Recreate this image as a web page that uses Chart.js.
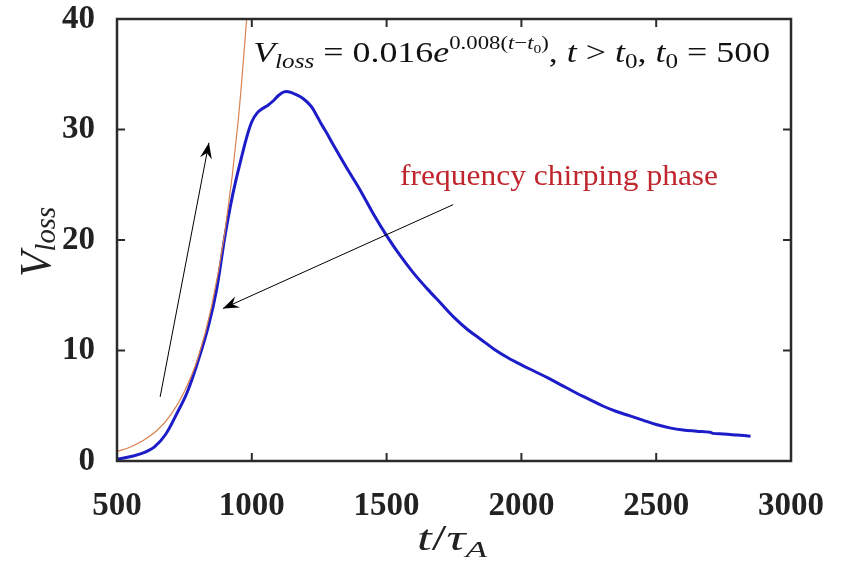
<!DOCTYPE html>
<html>
<head>
<meta charset="utf-8">
<script src="https://cdn.jsdelivr.net/npm/chart.js@4.4.1/dist/chart.umd.min.js"></script>
<style>
  html, body { margin: 0; padding: 0; background: #fff; }
  #wrap { width: 842px; height: 563px; }
</style>
</head>
<body>
<div id="wrap"><canvas id="lossChart"></canvas></div>
<script>
// simulated V_loss vs t/tau_A (blue)
const simT = [500, 560, 600, 640, 680, 720, 760, 800, 840, 870, 900, 920, 940, 960, 980,
  1000, 1020, 1040, 1060, 1080, 1100, 1120, 1140, 1160, 1190, 1220, 1240, 1260, 1280, 1300,
  1350, 1400, 1450, 1500, 1550, 1600, 1650, 1700, 1750, 1800, 1850, 1900, 1950, 2000,
  2050, 2100, 2150, 2200, 2250, 2300, 2350, 2400, 2450, 2500, 2550, 2600, 2650, 2700,
  2710, 2750, 2800, 2850];
const simV = [0.15, 0.45, 0.75, 1.3, 2.4, 4.2, 6.2, 9.0, 12.3, 15.6, 20.3, 23.0, 25.3, 27.3, 29.2,
  30.7, 31.5, 31.9, 32.2, 32.6, 33.1, 33.4, 33.4, 33.2, 32.8, 32.1, 31.3, 30.4, 29.6, 28.7,
  26.6, 24.6, 22.4, 20.4, 18.6, 17.0, 15.6, 14.3, 13.0, 11.9, 11.0, 10.1, 9.35, 8.7,
  8.1, 7.5, 6.85, 6.2, 5.6, 5.0, 4.5, 4.1, 3.7, 3.3, 3.0, 2.8, 2.7, 2.6,
  2.5, 2.45, 2.35, 2.25];

// exponential fit (thin orange line)
const fitT = [500, 550, 600, 650, 700, 750, 800, 850, 900, 950, 1000];
const fitV = [0.85, 1.27, 1.9, 2.8, 4.2, 6.3, 9.3, 13.9, 20.7, 30.9, 46];

const xTicks = [500, 1000, 1500, 2000, 2500, 3000];
const yTicks = [0, 10, 20, 30, 40];

const toPoints = (xs, ys) => xs.map((x, i) => ({ x: x, y: ys[i] }));

// arrows in data coordinates: [fromX, fromY, toX, toY]
const arrows = [
  [660, 5.8, 841, 28.8],
  [1747, 23.2, 893, 13.8]
];

const serif = '"Liberation Serif", "Times New Roman", serif';

function richText(ctx, parts, x, y, width) {
  let total = 0;
  parts.forEach(p => {
    ctx.font = p.font;
    p.w = ctx.measureText(p.text).width;
    total += p.w;
  });
  const sx = width ? width / total : 1;
  ctx.save();
  ctx.translate(x, y);
  ctx.scale(sx, 1);
  let cx = 0;
  parts.forEach(p => {
    ctx.font = p.font;
    ctx.fillText(p.text, cx, p.dy || 0);
    cx += p.w;
  });
  ctx.restore();
}

function arrowHead(ctx, x1, y1, x2, y2) {
  const a = Math.atan2(y2 - y1, x2 - x1);
  const len = 16, half = 6;
  ctx.save();
  ctx.translate(x2, y2);
  ctx.rotate(a);
  ctx.beginPath();
  ctx.moveTo(0, 0);
  ctx.lineTo(-len, -half);
  ctx.lineTo(-len * 0.65, 0);
  ctx.lineTo(-len, half);
  ctx.closePath();
  ctx.fill();
  ctx.restore();
}

const decorations = {
  id: 'decorations',
  afterDraw(chart) {
    const ctx = chart.ctx;
    const a = chart.chartArea;
    const xs = chart.scales.x, ys = chart.scales.y;

    // box + inward ticks
    ctx.save();
    ctx.strokeStyle = '#2b2b2b';
    ctx.lineWidth = 2.5;
    ctx.strokeRect(a.left, a.top, a.right - a.left, a.bottom - a.top);
    ctx.lineWidth = 2;
    ctx.beginPath();
    xTicks.slice(1, -1).forEach(v => {
      const px = xs.getPixelForValue(v);
      ctx.moveTo(px, a.bottom); ctx.lineTo(px, a.bottom - 8);
      ctx.moveTo(px, a.top); ctx.lineTo(px, a.top + 8);
    });
    yTicks.slice(1, -1).forEach(v => {
      const py = ys.getPixelForValue(v);
      ctx.moveTo(a.left, py); ctx.lineTo(a.left + 8, py);
      ctx.moveTo(a.right, py); ctx.lineTo(a.right - 8, py);
    });
    ctx.stroke();

    // arrows
    ctx.strokeStyle = '#000';
    ctx.fillStyle = '#000';
    ctx.lineWidth = 1;
    arrows.forEach(r => {
      const x1 = xs.getPixelForValue(r[0]), y1 = ys.getPixelForValue(r[1]);
      const x2 = xs.getPixelForValue(r[2]), y2 = ys.getPixelForValue(r[3]);
      ctx.beginPath();
      ctx.moveTo(x1, y1);
      ctx.lineTo(x2, y2);
      ctx.stroke();
      arrowHead(ctx, x1, y1, x2, y2);
    });

    // formula
    ctx.fillStyle = '#111';
    ctx.textBaseline = 'alphabetic';
    const it = s => 'italic ' + s + 'px ' + serif;
    const rm = s => s + 'px ' + serif;
    richText(ctx, [
      { text: 'V', font: it(30) },
      { text: 'loss', font: it(21), dy: 6 },
      { text: ' = 0.016', font: rm(30) },
      { text: 'e', font: it(30) },
      { text: '0.008(', font: rm(19), dy: -13 },
      { text: 't', font: it(19), dy: -13 },
      { text: '\u2212', font: rm(19), dy: -13 },
      { text: 't', font: it(19), dy: -13 },
      { text: '0', font: rm(13), dy: -9 },
      { text: ')', font: rm(19), dy: -13 },
      { text: ', ', font: rm(30) },
      { text: 't', font: it(30) },
      { text: ' > ', font: rm(30) },
      { text: 't', font: it(30) },
      { text: '0', font: rm(21), dy: 6 },
      { text: ', ', font: rm(30) },
      { text: 't', font: it(30) },
      { text: '0', font: rm(21), dy: 6 },
      { text: ' = 500', font: rm(30) }
    ], xs.getPixelForValue(1005), ys.getPixelForValue(36.1), 517);

    // red label
    ctx.fillStyle = '#c0262d';
    richText(ctx, [{ text: 'frequency chirping phase', font: rm(29) }],
      xs.getPixelForValue(1550), ys.getPixelForValue(25.0), 318);

    // x axis title
    ctx.fillStyle = '#222';
    richText(ctx, [
      { text: 't', font: it(36) },
      { text: '/', font: rm(36) },
      { text: '\u03c4', font: it(36) },
      { text: 'A', font: it(24), dy: 7 }
    ], 417, 550, 70);

    // y axis title (rotated)
    ctx.save();
    ctx.translate(50, 277);
    ctx.rotate(-Math.PI / 2);
    richText(ctx, [
      { text: 'V', font: it(44) },
      { text: 'loss', font: it(30), dy: 5 }
    ], 0, 0, 70);
    ctx.restore();
    ctx.restore();
  }
};

new Chart(document.getElementById('lossChart'), {
  type: 'scatter',
  data: {
    datasets: [
      {
        label: 'fit',
        data: toPoints(fitT, fitV),
        showLine: true,
        borderColor: '#d9824f',
        borderWidth: 1.2,
        pointRadius: 0,
        cubicInterpolationMode: 'monotone'
      },
      {
        label: 'V_loss',
        data: toPoints(simT, simV),
        showLine: true,
        borderColor: '#1c1cc8',
        borderWidth: 3,
        pointRadius: 0,
        tension: 0.35
      }
    ]
  },
  options: {
    responsive: true,
    maintainAspectRatio: false,
    animation: false,
    layout: {
      padding: { top: 19, right: 51, left: 0, bottom: 0 }
    },
    plugins: {
      legend: { display: false },
      tooltip: { enabled: false }
    },
    scales: {
      x: {
        type: 'linear',
        min: 500,
        max: 3000,
        afterBuildTicks: s => { s.ticks = xTicks.map(v => ({ value: v })); },
        afterFit: s => { s.height = 102; s.paddingLeft = 0; s.paddingRight = 0; },
        grid: { display: false },
        border: { display: false },
        ticks: {
          color: '#222',
          padding: 18,
          maxRotation: 0,
          callback: v => String(v),
          font: { family: serif, size: 33, weight: 'bold' }
        }
      },
      y: {
        type: 'linear',
        min: 0,
        max: 40,
        afterBuildTicks: s => { s.ticks = yTicks.map(v => ({ value: v })); },
        afterFit: s => { s.width = 117; s.paddingTop = 0; s.paddingBottom = 0; },
        grid: { display: false },
        border: { display: false },
        ticks: {
          color: '#222',
          padding: 14,
          callback: v => String(v),
          font: { family: serif, size: 33, weight: 'bold' }
        }
      }
    }
  },
  plugins: [decorations]
});
</script>
</body>
</html>
